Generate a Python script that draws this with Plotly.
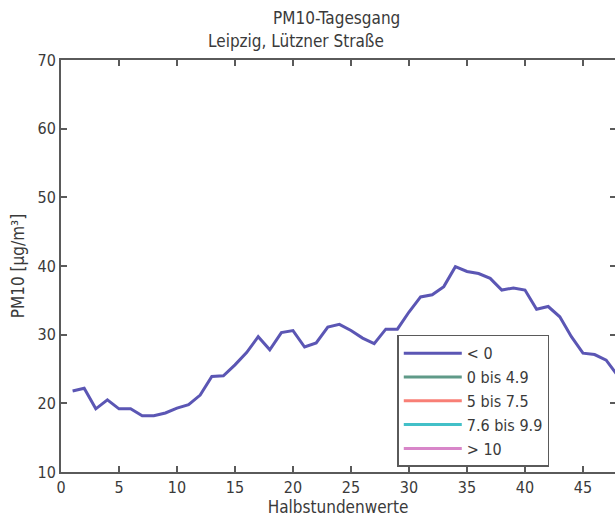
import plotly.graph_objects as go

x_vals = list(range(1, 49))
pm10 = [21.8, 22.2, 19.2, 20.5, 19.2, 19.2, 18.2, 18.2, 18.6, 19.3,
        19.8, 21.2, 23.9, 24.0, 25.6, 27.4, 29.7, 27.8, 30.3, 30.6,
        28.2, 28.8, 31.1, 31.5, 30.6, 29.5, 28.7, 30.8, 30.8, 33.3,
        35.5, 35.8, 37.0, 39.9, 39.2, 38.9, 38.2, 36.5, 36.8, 36.5,
        33.7, 34.1, 32.6, 29.7, 27.3, 27.1, 26.3, 24.0]

legend_names = ["< 0", "0 bis 4.9", "5 bis 7.5", "7.6 bis 9.9", "> 10"]
legend_colors = ["#5b56b4", "#5f9a88", "#f87f76", "#42c0c8", "#d886c9"]

x_ticks = [0, 5, 10, 15, 20, 25, 30, 35, 40, 45]
y_ticks = [10, 20, 30, 40, 50, 60, 70]

title_main = "PM10-Tagesgang"
title_sub = "Leipzig, Lützner Straße"
x_title = "Halbstundenwerte"
y_title = "PM10 [µg/m³]"

FONT = "DejaVu Sans Condensed, Liberation Sans, sans-serif"
AX = "#5a5a5a"
TXT = "#3a3a3a"

fig = go.Figure()
fig.add_trace(go.Scatter(x=x_vals, y=pm10, mode="lines", name=legend_names[0],
                         line=dict(color=legend_colors[0], width=3)))
for n, c in zip(legend_names[1:], legend_colors[1:]):
    fig.add_trace(go.Scatter(x=[None], y=[None], mode="lines", name=n,
                             line=dict(color=c, width=3)))
# invisible trace on right axis for mirrored ticks
fig.add_trace(go.Scatter(x=[None], y=[None], yaxis="y2", showlegend=False, hoverinfo="skip"))

xr = [0, 47.76]
fig.update_layout(
    width=615, height=519,
    margin=dict(l=61, r=0, t=60, b=47),
    paper_bgcolor="white", plot_bgcolor="white",
    font=dict(family=FONT, size=16, color=TXT),
    showlegend=True,
    legend=dict(x=0.607, y=0.333, xanchor="left", yanchor="top",
                bordercolor=AX, borderwidth=1.5, bgcolor="white",
                font=dict(family=FONT, size=16, color=TXT),
                itemwidth=58, tracegroupgap=0),
    xaxis=dict(range=xr, tickvals=x_ticks, ticks="inside", ticklen=6, tickwidth=1.5,
               tickcolor=AX, showline=True, linecolor=AX, linewidth=2, mirror="ticks",
               showgrid=False, zeroline=False,
               tickfont=dict(family=FONT, size=16, color=TXT),
               title=dict(text=x_title, standoff=5, font=dict(family=FONT, size=17, color=TXT))),
    yaxis=dict(range=[10, 70], tickvals=y_ticks, ticks="inside", ticklen=6, tickwidth=1.5,
               tickcolor=AX, showline=True, linecolor=AX, linewidth=2,
               showgrid=False, zeroline=False,
               tickfont=dict(family=FONT, size=16, color=TXT),
               title=dict(text=y_title, standoff=9, font=dict(family=FONT, size=17, color=TXT))),
    yaxis2=dict(range=[10, 70], tickvals=y_ticks, overlaying="y", side="right",
                ticks="inside", ticklen=5, tickwidth=1.5, tickcolor=AX,
                showline=False, showticklabels=False, showgrid=False, zeroline=False),
    annotations=[
        dict(text=title_main, xref="paper", yref="paper", x=0.498, y=1, yshift=42,
             xanchor="center", yanchor="middle", showarrow=False,
             font=dict(family=FONT, size=17, color=TXT)),
        dict(text=title_sub, xref="paper", yref="paper", x=0.424, y=1, yshift=19,
             xanchor="center", yanchor="middle", showarrow=False,
             font=dict(family=FONT, size=17, color=TXT)),
    ],
)

fig.write_html("out.html")
